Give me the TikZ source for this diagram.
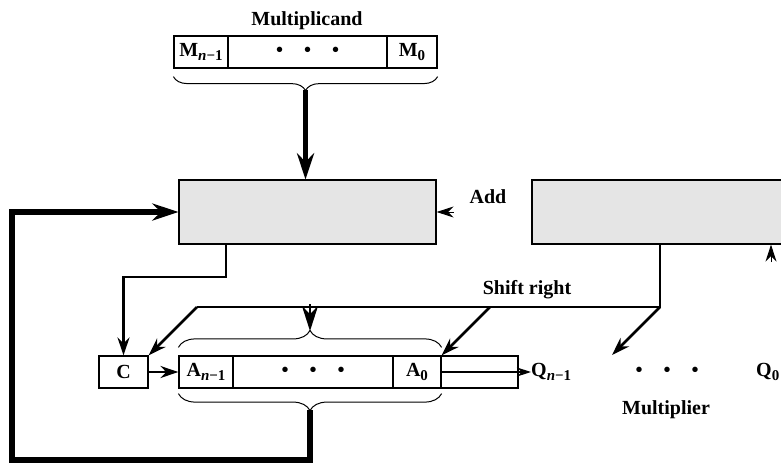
\documentclass[tikz,border=0pt]{standalone}
\usepackage{fontspec}
\setmainfont{Liberation Serif}
\usetikzlibrary{arrows.meta,decorations.pathreplacing}
\newcommand{\lowidx}[1]{\raisebox{-4pt}{\fontsize{15}{15}\selectfont #1}}
\newcommand{\threedots}{\textbullet\hspace{21pt}\textbullet\hspace{21pt}\textbullet}

\begin{document}
\begin{tikzpicture}[x=1pt,y=-1pt,
  reg/.style={draw,line width=1.2pt,minimum height=32pt,inner sep=0pt,font=\fontsize{20}{24}\selectfont\bfseries},
  unit/.style={draw,line width=1.2pt,fill=black!10,minimum height=64pt,inner sep=0pt},
  lbl/.style={inner sep=0pt,font=\fontsize{20}{24}\selectfont\bfseries},
  brc/.style={decorate,decoration={brace,amplitude=#1},line width=1pt},
  mid/.style={line width=2.6pt,-{Stealth[length=18pt,width=12pt]}},
  fat/.style={line width=5.5pt,-{Stealth[length=26pt,width=17pt]}},
  ctlhead/.style={line width=1pt,-{Stealth[length=17pt,width=11pt]}}
]
\clip (0,0) rectangle (781,463);

\node[lbl] (mlabel) at (307,21) {Multiplicand};
\node[reg,minimum width=54pt] (mhi) at (201,52) {M\lowidx{\textit{n}−1}};
\node[reg,minimum width=159pt] (mdots) at (307.5,52) {\threedots};
\node[reg,minimum width=50pt] (mlo) at (412,52) {M\lowidx{0}};

\node[unit,minimum width=257pt] (adder) at (307.5,212) {};
\node[unit,minimum width=300pt] (ctrl) at (682,212) {};
\node[lbl] (addlabel) at (488,197) {Add};
\node[lbl] (srlabel) at (527,290) {Shift right};

\node[reg,minimum width=49pt] (cbox) at (123.5,372) {C};
\node[reg,minimum width=54pt] (ahi) at (206,372) {A\lowidx{\textit{n}−1}};
\node[reg,minimum width=160pt] (adots) at (313,372) {\threedots};
\node[reg,minimum width=48pt] (alo) at (417,372) {A\lowidx{0}};
\node[reg,minimum width=77pt] (qext) at (479.5,372) {};

\node[lbl,anchor=west] (qhi) at (531,372) {Q\lowidx{\textit{n}−1}};
\node[lbl] (qdots) at (667,372) {\threedots};
\node[lbl,anchor=west] (qlo) at (756,372) {Q\lowidx{0}};
\node[lbl] (qlabel) at (666,410) {Multiplier};

\draw[brc=14pt] ([yshift=-8pt]mlo.south east) -- ([yshift=-8pt]mhi.south west);
\draw[brc=17pt] ([yshift=8pt]ahi.north west) -- ([yshift=8pt]alo.north east);
\draw[brc=17pt] ([yshift=-5pt]alo.south east) -- ([yshift=-5pt]ahi.south west);

\coordinate (mtip) at (305.5,90);
\coordinate (atop) at (310,331);
\coordinate (abot) at (310,410);
\coordinate (loop) at (12,460);
\coordinate (cdrop) at (226,277);
\coordinate (sr) at (660,307);
\coordinate (srl) at (197,307);
\coordinate (srm) at (490,307);
\coordinate (qtip) at (612,355);
\coordinate (ctlin) at (771,262);

\draw[fat] (mtip) -- (mtip |- adder.north);
\draw[fat] (abot) |- (loop) |- (adder.west);

\draw[mid] (cdrop |- adder.south) -- (cdrop) -| (cbox.north);
\draw[line width=2.6pt] (sr |- ctrl.south) -- (sr) -- (srl);
\draw[mid] (srl) -- (cbox.north east);
\draw[mid] (srm) -- (alo.north east);
\draw[mid] (sr) -- (qtip);
\draw[line width=2.6pt,-{Stealth[length=25pt,width=16pt]}] (310,304) -- (atop);
\draw[mid] (cbox) -- (ahi);
\draw[line width=1.2pt,-{Stealth[length=14pt,width=9pt]}] (alo.east) -- (qhi.west);

\draw[ctlhead] ([xshift=17pt]adder.east) -- (adder.east);
\draw[ctlhead] (ctlin) -- (ctlin |- ctrl.south);
\end{tikzpicture}
\end{document}
